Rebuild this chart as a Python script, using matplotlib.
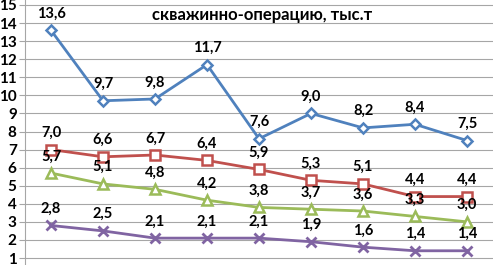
import numpy as np
import matplotlib.pyplot as plt

# данные
cats = np.arange(9)
blue = [13.6, 9.7, 9.8, 11.7, 7.6, 9.0, 8.2, 8.4, 7.5]
red = [7.0, 6.6, 6.7, 6.4, 5.9, 5.3, 5.1, 4.4, 4.4]
green = [5.7, 5.1, 4.8, 4.2, 3.8, 3.7, 3.6, 3.3, 3.0]
purple = [2.8, 2.5, 2.1, 2.1, 2.1, 1.9, 1.6, 1.4, 1.4]
yticks = list(range(1, 16))

plt.rcParams['font.family'] = ['Lato', 'DejaVu Sans']

fig = plt.figure(figsize=(4.93, 2.65), dpi=100)
ax = fig.add_axes([25 / 493, 0, 1 - 25 / 493, 1])

series = [
    (blue, '#4F81BD', 'D', 5.5),
    (red, '#C0504D', 's', 7),
    (green, '#9BBB59', '^', 7),
    (purple, '#8064A2', 'x', 7),
]
for vals, col, mk, ms in series:
    if mk == 'x':
        ax.plot(cats, vals, color=col, lw=2, marker=mk, ms=ms, mew=2, zorder=3)
    else:
        ax.plot(cats, vals, color=col, lw=2, marker=mk, ms=ms, mew=1.8,
                mfc='white', mec=col, zorder=3)
    for x, v in zip(cats, vals):
        ax.annotate(f"{v:.1f}".replace('.', ','), (x, v), xytext=(0, 12),
                    textcoords='offset points', ha='center', va='center',
                    fontsize=10.5, fontweight='bold', color='black', zorder=4)

ax.set_xlim(-0.5, 8.5)
ax.set_ylim(1 - 7 / 18.1, 15 + 5 / 18.1)
ax.set_yticks(yticks)
ax.set_xticks([])
ax.yaxis.grid(True, color='#A6A6A6', lw=0.8)
ax.set_axisbelow(True)
for s in ['top', 'right', 'bottom']:
    ax.spines[s].set_visible(False)
ax.spines['left'].set_color('#A6A6A6')
ax.tick_params(axis='y', length=4, color='#A6A6A6', pad=2, labelsize=11)
for lbl in ax.get_yticklabels():
    lbl.set_fontweight('bold')

fig.text(262 / 493, 1 - 15 / 265, 'скважинно-операцию, тыс.т', ha='center',
         va='center', fontsize=12, fontweight='bold')

fig.savefig('out.png', dpi=100)
